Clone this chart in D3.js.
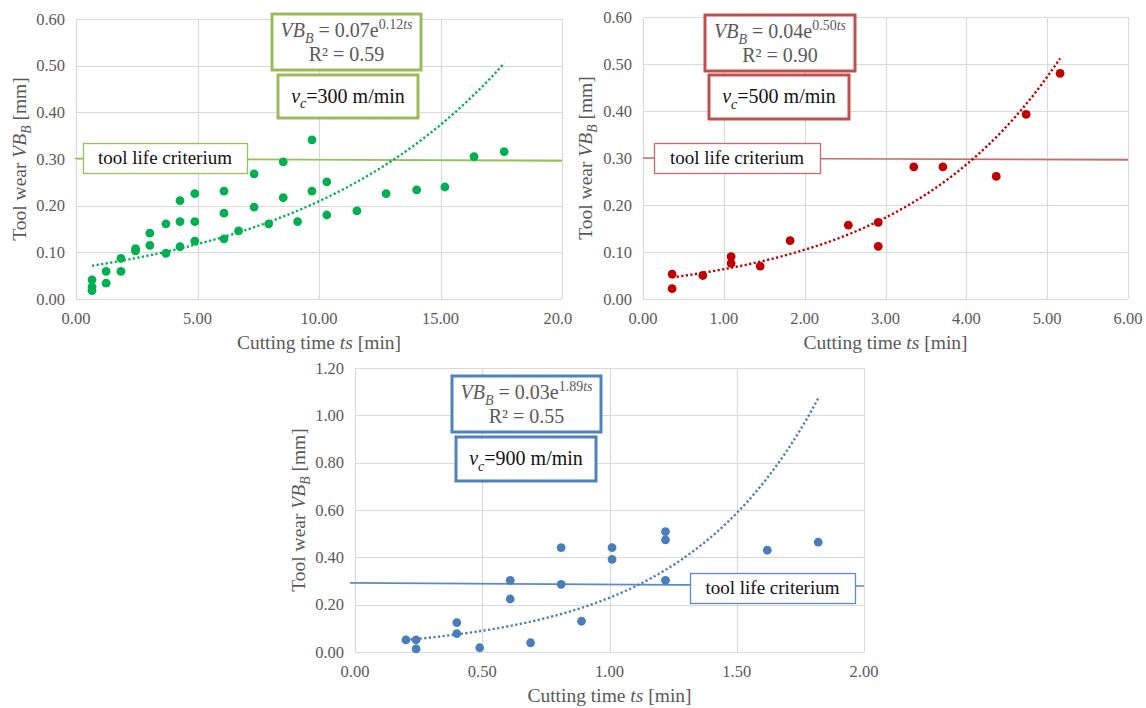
<!DOCTYPE html>
<html>
<head>
<meta charset="utf-8">
<script src="https://cdn.jsdelivr.net/npm/d3@7/dist/d3.min.js"></script>
<style>
  body { margin: 0; background: #fff; }
  svg { display: block; }
  svg, svg text, svg tspan { font-family: 'Liberation Serif', 'DejaVu Serif', 'Times New Roman', serif; }
</style>
</head>
<body>
<svg id="chart" width="1146" height="708"></svg>
<script>
// --- values ---
// vc = 300 m/min
const time300 = [0.66, 0.66, 0.66, 1.24, 1.24, 1.85, 1.85, 2.45, 2.45, 3.04, 3.04, 3.70, 3.70,
  4.28, 4.28, 4.28, 4.89, 4.89, 4.89, 6.09, 6.09, 6.09, 6.69, 7.33, 7.33, 7.93, 8.53, 8.53,
  9.12, 9.71, 9.71, 10.32, 10.32, 11.56, 12.76, 14.02, 15.18, 16.38, 17.62]
const wear300 = [0.041, 0.026, 0.018, 0.059, 0.034, 0.087, 0.059, 0.108, 0.103, 0.141, 0.115, 0.161, 0.098,
  0.211, 0.166, 0.112, 0.226, 0.166, 0.124, 0.231, 0.184, 0.129, 0.146, 0.268, 0.197, 0.161, 0.294, 0.217,
  0.166, 0.341, 0.231, 0.251, 0.180, 0.189, 0.226, 0.234, 0.240, 0.305, 0.316]

// vc = 500 m/min
const time500 = [0.36, 0.36, 0.74, 1.09, 1.09, 1.45, 1.82, 2.54, 2.91, 2.91, 3.35, 3.71, 4.37, 4.74, 5.16]
const wear500 = [0.053, 0.022, 0.050, 0.090, 0.076, 0.070, 0.124, 0.157, 0.163, 0.112, 0.281, 0.281, 0.261, 0.393, 0.480]

// vc = 900 m/min
const time900 = [0.20, 0.24, 0.24, 0.40, 0.40, 0.49, 0.61, 0.61, 0.69, 0.81, 0.81, 0.89, 1.01, 1.01,
  1.22, 1.22, 1.22, 1.62, 1.82]
const wear900 = [0.051, 0.051, 0.013, 0.124, 0.078, 0.018, 0.303, 0.224, 0.039, 0.441, 0.286, 0.130, 0.441, 0.391,
  0.509, 0.474, 0.303, 0.430, 0.464]

// exponential trendlines VB = a * e^(b*ts), as drawn
const trend300 = { a: 0.066, b: 0.1155 }
const trend500 = { a: 0.0384, b: 0.502 }
const trend900 = { a: 0.035, b: 1.88 }

// labels shown in the boxes
const eqLabel300 = { a: '0.07', b: '0.12', r2: '0.59', vc: '300' }
const eqLabel500 = { a: '0.04', b: '0.50', r2: '0.90', vc: '500' }
const eqLabel900 = { a: '0.03', b: '1.89', r2: '0.55', vc: '900' }

// tool life criterium line ends [ts, VB]
const criterion300 = [[-0.05, 0.301], [20, 0.296]]
const criterion500 = [[0, 0.300], [6, 0.296]]
const criterion900 = [[-0.02, 0.292], [2, 0.279]]

// axis ticks
const xTicks300 = [0, 5, 10, 15, 20]
const xTicks500 = [0, 1, 2, 3, 4, 5, 6]
const xTicks900 = [0, 0.5, 1, 1.5, 2]
const yTicksSmall = [0, 0.1, 0.2, 0.3, 0.4, 0.5, 0.6]
const yTicks900 = [0, 0.2, 0.4, 0.6, 0.8, 1.0, 1.2]

const FONT = "'Liberation Serif', 'DejaVu Serif', serif"
const svg = d3.select('#chart').attr('font-family', FONT)
svg.append('rect').attr('width', 1146).attr('height', 708).attr('fill', '#fff')

const fmt = d3.format('.2f')
const GRID = '#d9d9d9'
const TICK_TEXT = '#595959'

// writes text built from parts: {t, i (italic), s ('sub'|'sup')}
function richText(sel, x, y, parts, size, color, anchor) {
  const t = sel.append('text')
    .attr('x', x).attr('y', y)
    .attr('font-family', FONT)
    .attr('font-size', size)
    .attr('fill', color)
    .attr('text-anchor', anchor || 'middle')
  let shift = 0
  parts.forEach(p => {
    let target = 0
    if (p.s === 'sub') target = size * 0.28
    if (p.s === 'sup') target = -size * 0.38
    t.append('tspan')
      .attr('dy', target - shift)
      .attr('font-style', p.i ? 'italic' : 'normal')
      .attr('font-size', p.s ? size * 0.7 : size)
      .text(p.t)
    shift = target
  })
  return t
}

function drawPanel(cfg) {
  const g = svg.append('g').attr('font-family', FONT)
  if (cfg.clip) {
    svg.append('clipPath').attr('id', cfg.id + '-clip')
      .append('rect').attr('x', 0).attr('y', 0).attr('width', cfg.clip).attr('height', 708)
    g.attr('clip-path', `url(#${cfg.id}-clip)`)
  }

  const x = d3.scaleLinear().domain(cfg.xDomain).range([cfg.left, cfg.right])
  const y = d3.scaleLinear().domain(cfg.yDomain).range([cfg.bottom, cfg.top])

  // gridlines
  g.append('g').selectAll('line')
    .data(cfg.yTicks).join('line')
    .attr('x1', cfg.left).attr('x2', cfg.right)
    .attr('y1', d => Math.round(y(d)) + 0.5).attr('y2', d => Math.round(y(d)) + 0.5)
    .attr('stroke', GRID).attr('stroke-width', 1.2)
  g.append('g').selectAll('line')
    .data(cfg.xTicks).join('line')
    .attr('x1', d => Math.round(x(d)) + 0.5).attr('x2', d => Math.round(x(d)) + 0.5)
    .attr('y1', cfg.top).attr('y2', cfg.bottom)
    .attr('stroke', GRID).attr('stroke-width', 1.2)

  // tick labels
  g.append('g').selectAll('text')
    .data(cfg.yTicks).join('text')
    .attr('x', cfg.left - 11)
    .attr('y', d => y(d) + 5.5)
    .attr('text-anchor', 'end')
    .attr('font-size', 16.5)
    .attr('fill', TICK_TEXT)
    .text(d => fmt(d))
  g.append('g').selectAll('text')
    .data(cfg.xTicks).join('text')
    .attr('x', d => x(d))
    .attr('y', cfg.bottom + 25)
    .attr('text-anchor', 'middle')
    .attr('font-size', 16.5)
    .attr('fill', TICK_TEXT)
    .text(d => fmt(d))

  // axis titles
  richText(g, (cfg.left + cfg.right) / 2, cfg.bottom + 50,
    [{ t: 'Cutting time ' }, { t: 'ts', i: true }, { t: ' [min]' }], 19.5, TICK_TEXT)
  const yt = richText(g, 0, 0,
    [{ t: 'Tool wear ' }, { t: 'VB', i: true }, { t: 'B', i: true, s: 'sub' }, { t: ' [mm]' }], 19.5, TICK_TEXT)
  yt.attr('transform', `translate(${cfg.yTitleX},${(cfg.top + cfg.bottom) / 2}) rotate(-90)`)

  // tool life criterium line
  g.append('line')
    .attr('x1', x(cfg.criterion[0][0])).attr('y1', y(cfg.criterion[0][1]))
    .attr('x2', x(cfg.criterion[1][0])).attr('y2', y(cfg.criterion[1][1]))
    .attr('stroke', cfg.lineColor).attr('stroke-width', 1.6)

  // trendline
  const ext = d3.extent(cfg.time)
  const curve = d3.range(0, 101).map(i => {
    const t = ext[0] + (ext[1] - ext[0]) * i / 100
    return [t, cfg.trend.a * Math.exp(cfg.trend.b * t)]
  })
  g.append('path')
    .datum(curve)
    .attr('fill', 'none')
    .attr('stroke', cfg.color)
    .attr('stroke-width', 2.4)
    .attr('stroke-dasharray', '2.2,2.4')
    .attr('d', d3.line().x(d => x(d[0])).y(d => y(d[1])))

  // markers
  g.append('g').selectAll('circle')
    .data(cfg.time.map((t, i) => [t, cfg.wear[i]]))
    .join('circle')
    .attr('cx', d => x(d[0]))
    .attr('cy', d => y(d[1]))
    .attr('r', 4.4)
    .attr('fill', cfg.color)

  // tool life criterium box
  const b = cfg.lifeBox
  g.append('rect')
    .attr('x', b.x + 0.5).attr('y', b.y + 0.5).attr('width', b.w).attr('height', b.h)
    .attr('fill', '#fff').attr('stroke', cfg.lineColor).attr('stroke-width', 1.3)
  g.append('text')
    .attr('x', b.x + b.w / 2).attr('y', b.y + b.h / 2 + 6)
    .attr('text-anchor', 'middle').attr('font-size', 19).attr('fill', '#111')
    .attr('font-family', FONT)
    .text('tool life criterium')

  // equation box
  const e = cfg.eqBox
  g.append('rect')
    .attr('x', e.x).attr('y', e.y).attr('width', e.w).attr('height', e.h)
    .attr('fill', '#fff').attr('stroke', cfg.boxColor).attr('stroke-width', 3)
  richText(g, e.x + e.w / 2, e.y + 23, [
    { t: 'VB', i: true }, { t: 'B', i: true, s: 'sub' }, { t: ' = ' + cfg.label.a + 'e' },
    { t: cfg.label.b, s: 'sup' }, { t: 'ts', i: true, s: 'sup' }
  ], 20, TICK_TEXT)
  richText(g, e.x + e.w / 2, e.y + 47, [{ t: 'R² = ' + cfg.label.r2 }], 20, TICK_TEXT)

  // cutting speed box
  const v = cfg.vcBox
  g.append('rect')
    .attr('x', v.x).attr('y', v.y).attr('width', v.w).attr('height', v.h)
    .attr('fill', '#fff').attr('stroke', cfg.boxColor).attr('stroke-width', 3)
  richText(g, v.x + v.w / 2, v.y + v.h / 2 + 6, [
    { t: 'v', i: true }, { t: 'c', i: true, s: 'sub' }, { t: '=' + cfg.label.vc + ' m/min' }
  ], 20, '#111')
}

drawPanel({
  id: 'p300', clip: 572,
  time: time300, wear: wear300, trend: trend300, label: eqLabel300, criterion: criterion300,
  xDomain: [0, 20], yDomain: [0, 0.6], xTicks: xTicks300, yTicks: yTicksSmall,
  left: 76, right: 562, top: 19, bottom: 299, yTitleX: 26,
  color: '#00b050', lineColor: '#92c353', boxColor: '#9bbb59',
  lifeBox: { x: 83, y: 143, w: 164, h: 30 },
  eqBox: { x: 272, y: 14, w: 149, h: 56 },
  vcBox: { x: 278, y: 75, w: 140, h: 43 }
})

drawPanel({
  id: 'p500',
  time: time500, wear: wear500, trend: trend500, label: eqLabel500, criterion: criterion500,
  xDomain: [0, 6], yDomain: [0, 0.6], xTicks: xTicks500, yTicks: yTicksSmall,
  left: 643, right: 1128, top: 17, bottom: 299, yTitleX: 592,
  color: '#c00000', lineColor: '#d0696a', boxColor: '#c0504d',
  lifeBox: { x: 654, y: 143, w: 166, h: 30 },
  eqBox: { x: 705, y: 15, w: 150, h: 56 },
  vcBox: { x: 709, y: 75, w: 140, h: 44 }
})

drawPanel({
  id: 'p900',
  time: time900, wear: wear900, trend: trend900, label: eqLabel900, criterion: criterion900,
  xDomain: [0, 2], yDomain: [0, 1.2], xTicks: xTicks900, yTicks: yTicks900,
  left: 355, right: 864, top: 368, bottom: 652, yTitleX: 305,
  color: '#4a7ebb', lineColor: '#5b8ac6', boxColor: '#4f81bd',
  lifeBox: { x: 690, y: 573, w: 165, h: 30 },
  eqBox: { x: 452, y: 376, w: 149, h: 56 },
  vcBox: { x: 456, y: 437, w: 140, h: 44 }
})
</script>
</body>
</html>
